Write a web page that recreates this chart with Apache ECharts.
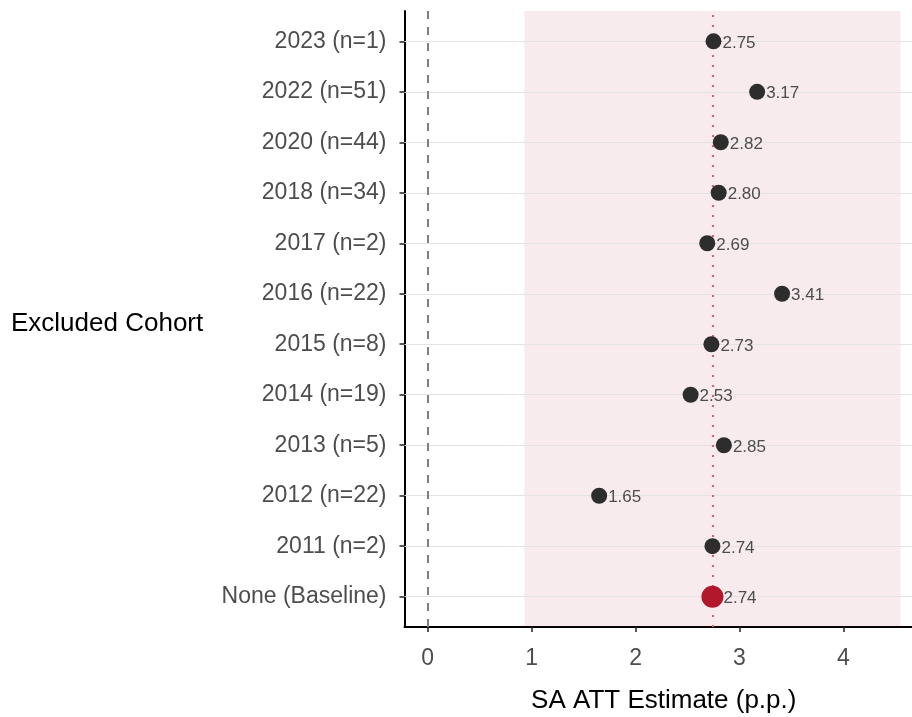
<!DOCTYPE html>
<html>
<head>
<meta charset="utf-8">
<script src="https://cdn.jsdelivr.net/npm/echarts@6/dist/echarts.min.js"></script>
<style>
  html, body { margin: 0; padding: 0; background: #ffffff; }
  #chart { width: 912px; height: 717px; }
</style>
</head>
<body>
<div id="chart"></div>
<script>
// Leave-one-cohort-out robustness: SA ATT estimate when each cohort is dropped
const cohorts = [
  'None (Baseline)', '2011 (n=2)', '2012 (n=22)', '2013 (n=5)', '2014 (n=19)',
  '2015 (n=8)', '2016 (n=22)', '2017 (n=2)', '2018 (n=34)', '2020 (n=44)',
  '2022 (n=51)', '2023 (n=1)'
];
const estimates = [2.74, 2.74, 1.65, 2.85, 2.53, 2.73, 3.41, 2.69, 2.80, 2.82, 3.17, 2.75];
// Baseline 95% confidence interval
const baselineCI = [0.93, 4.55];
const xTicks = [0, 1, 2, 3, 4];

const baselineIdx = 0;
const rowIdx = cohorts.map((_, i) => i);
const baseline = estimates[baselineIdx];

const FONT = '"Liberation Sans", Arial, sans-serif';

const chart = echarts.init(document.getElementById('chart'), null, { renderer: 'canvas' });

const otherPoints = estimates
  .map((v, i) => [v, i])
  .filter(p => p[1] !== baselineIdx);

const labelStyle = {
  show: true,
  position: 'right',
  distance: 1,
  offset: [0, 2],
  color: '#4d4d4d',
  fontSize: 17,
  fontFamily: FONT,
  formatter: p => p.value[0].toFixed(2)
};

chart.setOption({
  animation: false,
  backgroundColor: '#ffffff',
  // y-axis title, set left of the cohort labels
  title: {
    text: 'Excluded Cohort',
    left: 6,
    top: 306,
    textStyle: { color: '#000000', fontSize: 26, fontWeight: 'normal', fontFamily: FONT }
  },
  grid: {
    left: 404.5, top: 11, right: 0, bottom: 90,
    containLabel: false,
    outerBoundsMode: 'none'
  },
  xAxis: {
    type: 'value',
    min: -0.223,
    max: 4.66,
    name: 'SA ATT Estimate (p.p.)',
    nameLocation: 'middle',
    nameGap: 61,
    nameTextStyle: { color: '#000000', fontSize: 26, fontFamily: FONT, padding: [0, 0, 0, 11] },
    axisLine: { show: true, onZero: false, lineStyle: { color: '#000000', width: 2 } },
    axisTick: { show: true, customValues: xTicks, length: 5, lineStyle: { color: '#222222', width: 1.5 } },
    axisLabel: { customValues: xTicks, margin: 20, color: '#4d4d4d', fontSize: 23, fontFamily: FONT },
    splitLine: { show: false }
  },
  yAxis: {
    type: 'value',
    min: -0.6,
    max: 11.6,
    axisLine: { show: true, onZero: false, lineStyle: { color: '#000000', width: 2 } },
    axisTick: { show: true, customValues: rowIdx, length: 5, lineStyle: { color: '#222222', width: 1.5 } },
    axisLabel: {
      customValues: rowIdx,
      margin: 18,
      color: '#4d4d4d',
      fontSize: 23,
      fontFamily: FONT,
      formatter: v => cohorts[Math.round(v)]
    },
    splitLine: { show: false }
  },
  series: [
    {
      // horizontal guide lines at each cohort row
      type: 'scatter',
      data: [],
      z: 1,
      silent: true,
      markLine: {
        silent: true,
        symbol: 'none',
        label: { show: false },
        lineStyle: { color: '#e3e3e3', width: 1, type: 'solid' },
        data: rowIdx.map(i => ({ yAxis: i }))
      }
    },
    {
      // baseline confidence band, zero reference and baseline estimate
      type: 'scatter',
      data: [],
      z: 2,
      silent: true,
      markArea: {
        silent: true,
        itemStyle: { color: 'rgba(178,24,43,0.085)' },
        data: [[{ xAxis: baselineCI[0] }, { xAxis: baselineCI[1] }]]
      },
      markLine: {
        silent: true,
        symbol: 'none',
        label: { show: false },
        data: [
          { xAxis: 0, lineStyle: { color: '#808080', width: 2, type: [8, 8] } },
          { xAxis: baseline, lineStyle: { color: '#d4607a', width: 2.2, type: [2, 8] } }
        ]
      }
    },
    {
      type: 'scatter',
      name: 'Excluding cohort',
      z: 5,
      symbol: 'circle',
      symbolSize: 16,
      itemStyle: { color: '#2d2d2d', opacity: 1 },
      label: labelStyle,
      data: otherPoints
    },
    {
      type: 'scatter',
      name: 'Baseline',
      z: 6,
      symbol: 'circle',
      symbolSize: 22,
      itemStyle: { color: '#b2182b', opacity: 1 },
      label: Object.assign({}, labelStyle, { distance: 0 }),
      data: [[baseline, baselineIdx]]
    }
  ]
});
</script>
</body>
</html>
